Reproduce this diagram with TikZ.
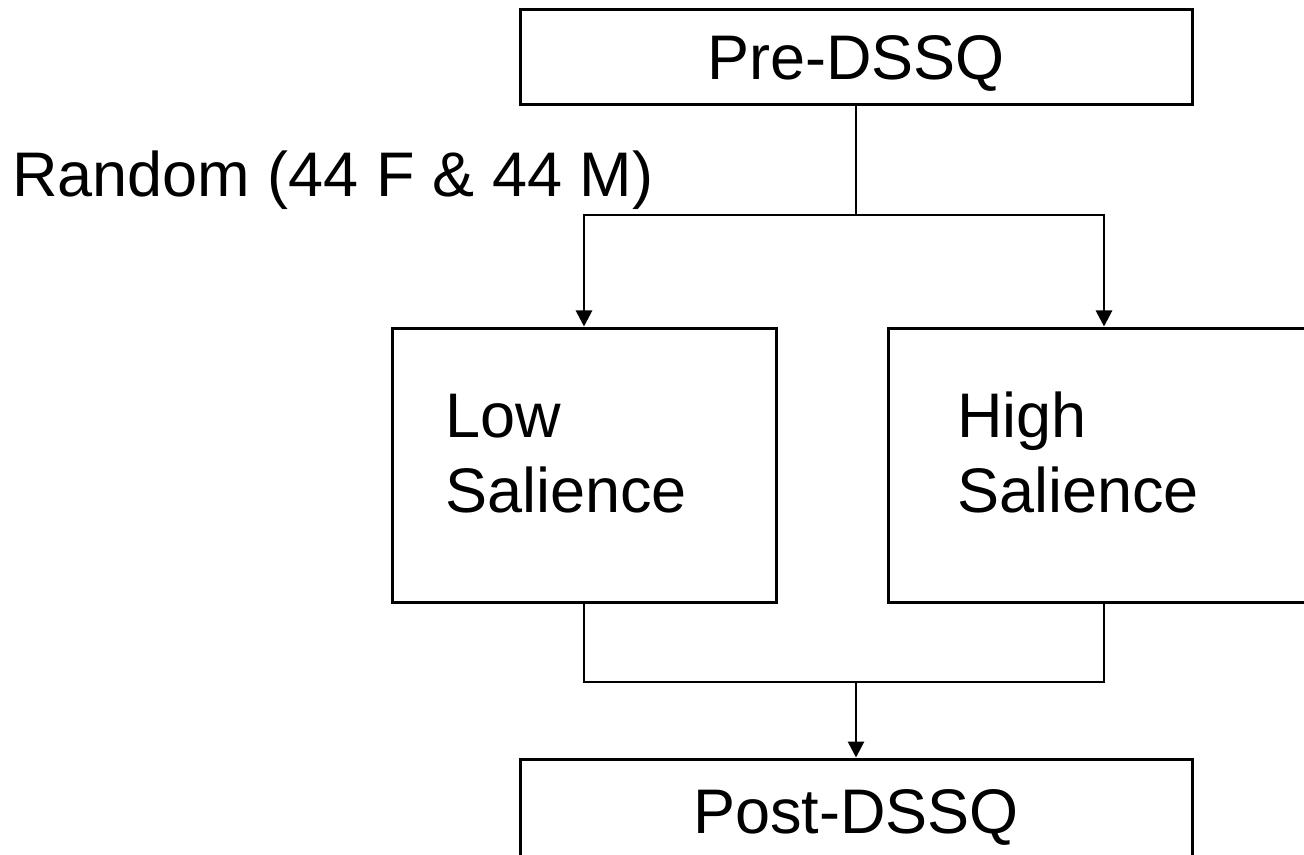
\documentclass[tikz,border=0pt]{standalone}
\usepackage{fontspec}
\setmainfont{Liberation Sans}
\usetikzlibrary{positioning,arrows.meta}
\tikzset{
  stage/.style={draw, line width=1.5pt, inner sep=0pt, text depth=0pt, font=\fontsize{31.5}{37.5}\selectfont},
  lbl/.style={inner sep=0pt, align=left, font=\fontsize{31.5}{37.5}\selectfont},
  fl/.style={-{Triangle[length=8pt,width=8pt]}, line width=1.4pt},
  ln/.style={line width=1.4pt},
}
\begin{document}
\begin{tikzpicture}[x=0.5pt,y=-0.5pt]
\useasboundingbox (0,0) rectangle (1304,855);
\clip (0,0) rectangle (1304,855);
\node[stage, minimum width=336pt, minimum height=47.5pt] (pre) at (856,57.5) {Pre-DSSQ};
\node[stage, minimum width=192pt, minimum height=137pt] (low) at (584,465) {};
\node[stage, minimum width=216pt, minimum height=137pt] (high) at (1104,465) {};
\node[stage, minimum width=336pt, minimum height=52pt] (post) at (856,811) {Post-DSSQ};
\node[lbl, anchor=base west] (lowtxt) at (445,512) {Low\\Salience};
\node[lbl, anchor=base west] (hightxt) at (957,512) {High\\Salience};
\node[lbl, anchor=base west] (random) at (12,197) {Random (44 F \& 44 M)};
\coordinate (split) at (856,215);
\coordinate (merge) at (856,682);
\draw[ln] (pre.south) -- (split);
\draw[fl] (split) -| (low.north);
\draw[fl] (split) -| (high.north);
\draw[ln] (low.south) |- (merge);
\draw[ln] (high.south) |- (merge);
\draw[fl] (merge) -- (post.north);
\end{tikzpicture}
\end{document}
